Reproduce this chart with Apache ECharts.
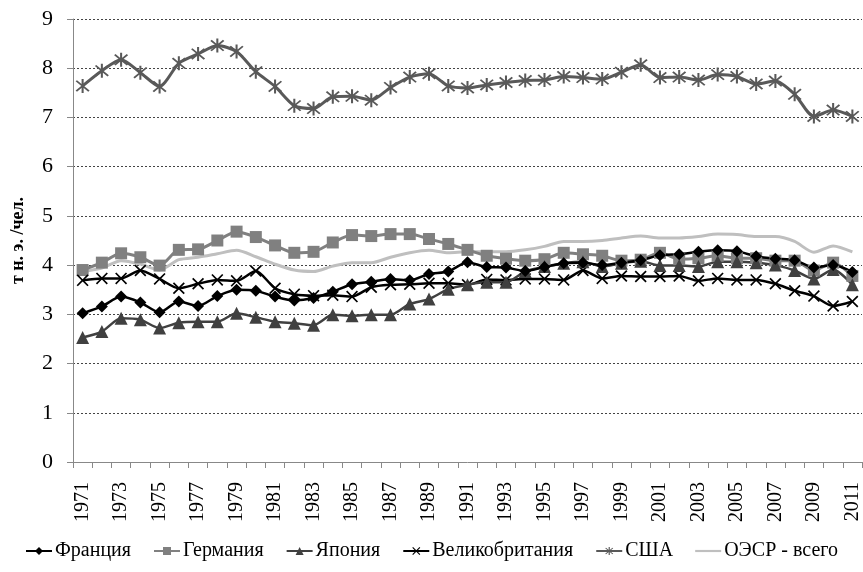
<!DOCTYPE html>
<html>
<head>
<meta charset="utf-8">
<script src="https://cdn.jsdelivr.net/npm/echarts@6/dist/echarts.min.js"></script>
<style>
  html, body { margin: 0; padding: 0; background: #fff; }
  #main { width: 863px; height: 572px; }
</style>
</head>
<body>
<div id="main"></div>
<script>
var years = [];
for (var y = 1971; y <= 2011; y++) years.push(String(y));

var france = [3.02, 3.16, 3.36, 3.24, 3.04, 3.26, 3.17, 3.37, 3.50, 3.48,
  3.36, 3.28, 3.33, 3.46, 3.61, 3.66, 3.72, 3.69, 3.82, 3.87,
  4.06, 3.96, 3.95, 3.88, 3.96, 4.04, 4.05, 4.00, 4.05, 4.10,
  4.20, 4.22, 4.27, 4.30, 4.28, 4.18, 4.13, 4.10, 3.95, 4.00, 3.86];
var germany = [3.90, 4.05, 4.24, 4.16, 3.99, 4.31, 4.32, 4.50, 4.68, 4.57,
  4.40, 4.25, 4.27, 4.46, 4.61, 4.59, 4.63, 4.63, 4.53, 4.43,
  4.31, 4.19, 4.13, 4.09, 4.12, 4.25, 4.22, 4.19, 4.09, 4.11,
  4.25, 4.12, 4.14, 4.19, 4.14, 4.14, 4.09, 4.09, 3.89, 4.05, 3.78];
var japan = [2.53, 2.65, 2.92, 2.89, 2.72, 2.83, 2.85, 2.85, 3.02, 2.94,
  2.85, 2.82, 2.78, 2.99, 2.97, 2.99, 2.99, 3.21, 3.31, 3.51,
  3.60, 3.65, 3.65, 3.87, 3.97, 4.04, 4.07, 3.97, 4.04, 4.08,
  3.99, 3.99, 3.97, 4.07, 4.07, 4.05, 4.00, 3.89, 3.72, 3.91, 3.60];
var uk = [3.69, 3.73, 3.73, 3.89, 3.72, 3.53, 3.62, 3.70, 3.68, 3.88,
  3.53, 3.41, 3.38, 3.39, 3.36, 3.55, 3.60, 3.61, 3.63, 3.63,
  3.60, 3.71, 3.70, 3.72, 3.72, 3.70, 3.89, 3.73, 3.78, 3.77,
  3.77, 3.78, 3.68, 3.73, 3.70, 3.70, 3.62, 3.48, 3.37, 3.17, 3.26];
var usa = [7.64, 7.95, 8.17, 7.91, 7.63, 8.10, 8.29, 8.46, 8.34, 7.93,
  7.63, 7.24, 7.18, 7.42, 7.43, 7.35, 7.61, 7.82, 7.89, 7.64,
  7.60, 7.66, 7.71, 7.75, 7.76, 7.83, 7.81, 7.78, 7.92, 8.07,
  7.81, 7.82, 7.76, 7.87, 7.83, 7.68, 7.74, 7.47, 7.02, 7.15, 7.02];
var oecd = [3.87, 3.94, 4.09, 4.02, 3.90, 4.11, 4.16, 4.23, 4.30, 4.17,
  4.02, 3.90, 3.87, 3.98, 4.05, 4.05, 4.16, 4.25, 4.30, 4.25,
  4.27, 4.27, 4.27, 4.31, 4.38, 4.48, 4.48, 4.50, 4.55, 4.59,
  4.55, 4.55, 4.58, 4.63, 4.62, 4.58, 4.58, 4.48, 4.26, 4.39, 4.27];

var names = ['Франция', 'Германия', 'Япония', 'Великобритания', 'США', 'ОЭСР - всего'];

// маркеры: крестик и звёздочка как залитые контуры
var crossPath = 'path://M0,1L1,0L5,4L9,0L10,1L6,5L10,9L9,10L5,6L1,10L0,9L4,5Z';
var starPath = 'path://M4.4,0H5.6V10H4.4Z M0.9,1.7L1.7,0.9L9.1,8.3L8.3,9.1Z M8.3,0.9L9.1,1.7L1.7,9.1L0.9,8.3Z';

var serif = 'serif';

function mkLine(name, data, color, symbol, size, width) {
  return {
    name: name,
    type: 'line',
    data: data,
    smooth: 0.25,
    symbol: symbol,
    symbolSize: size,
    showSymbol: symbol !== 'none',
    showAllSymbol: true,
    lineStyle: { color: color, width: width },
    itemStyle: { color: color },
    z: 2
  };
}

var legendData = names.map(function (n, i) {
  return i === 5 ? { name: n, icon: 'path://M0,4H30V6.5H0Z' } : { name: n };
});

var myChart = echarts.init(document.getElementById('main'));
var option = {
  animation: false,
  textStyle: { fontFamily: serif },
  grid: { left: 73, right: 1, top: 19, bottom: 110 },
  legend: {
    bottom: 6,
    left: 'center',
    itemWidth: 26,
    itemHeight: 10,
    itemGap: 22,
    textStyle: { fontFamily: serif, fontSize: 20, color: '#000', padding: [0, 0, 0, -2] },
    data: legendData
  },
  xAxis: {
    type: 'category',
    data: years,
    boundaryGap: true,
    axisLine: { lineStyle: { color: '#888', width: 1 } },
    axisTick: { show: true, interval: 0, length: 6, lineStyle: { color: '#888' } },
    axisLabel: {
      interval: 1,
      rotate: 90,
      fontSize: 20,
      color: '#000',
      fontFamily: serif,
      margin: 20
    }
  },
  yAxis: {
    type: 'value',
    min: 0,
    max: 9,
    interval: 1,
    name: 'т н. э. /чел.',
    nameLocation: 'middle',
    nameGap: 46,
    nameRotate: 90,
    nameTextStyle: { fontFamily: 'Liberation Serif', fontSize: 18, fontWeight: 'bold', color: '#000' },
    axisLine: { show: true, lineStyle: { color: '#888', width: 1 } },
    axisTick: { show: true, length: 6, lineStyle: { color: '#888' } },
    axisLabel: { fontSize: 22, color: '#000', fontFamily: serif, margin: 20 },
    splitLine: { show: true, lineStyle: { color: '#444', type: [2, 2], width: 1 } }
  },
  series: [
    mkLine(names[5], oecd, '#bfbfbf', 'none', 0, 3),
    mkLine(names[4], usa, '#595959', starPath, 14, 3),
    mkLine(names[1], germany, '#808080', 'rect', 12, 3),
    mkLine(names[3], uk, '#000000', crossPath, 12, 2.5),
    mkLine(names[2], japan, '#404040', 'triangle', 13, 2.5),
    mkLine(names[0], france, '#000000', 'diamond', 12, 2.5)
  ]
};
option && myChart.setOption(option);
</script>
</body>
</html>
